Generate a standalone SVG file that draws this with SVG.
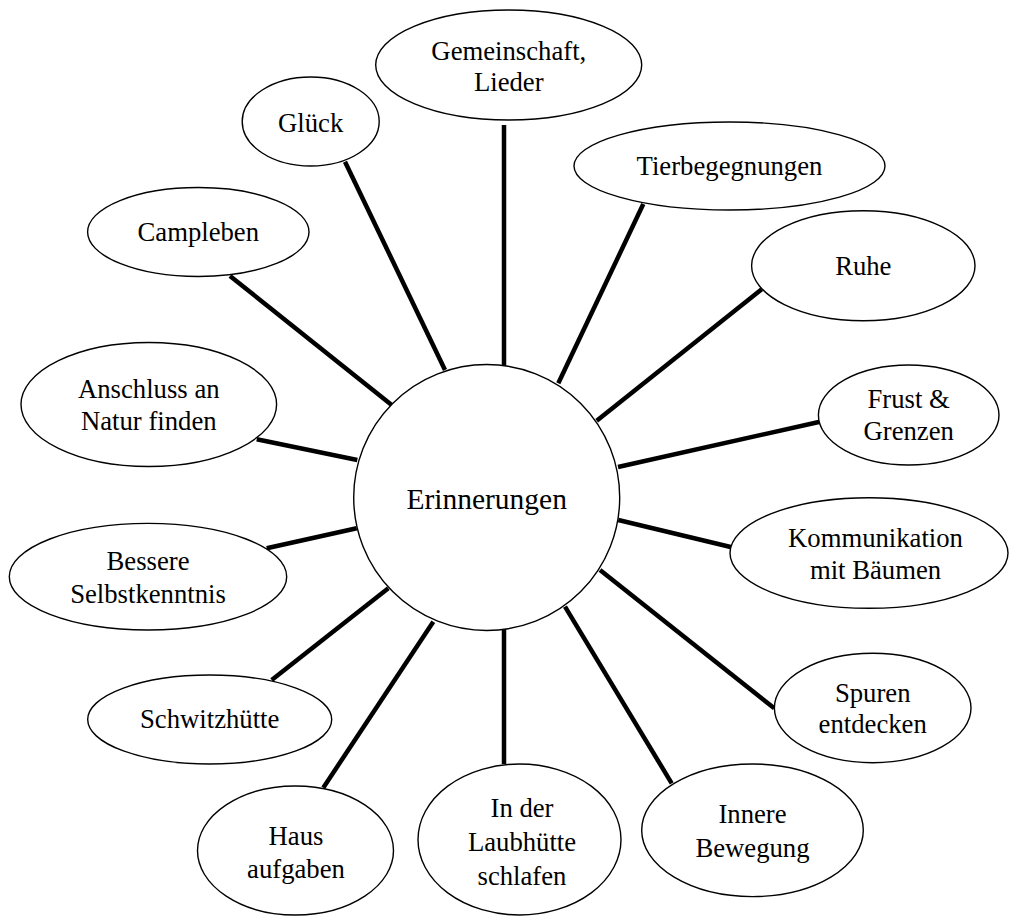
<svg xmlns="http://www.w3.org/2000/svg" width="1010" height="916" viewBox="0 0 1010 916">
<style>
.n{fill:#fff;stroke:#000;stroke-width:1.4}
.t{font-family:"Liberation Serif","Times New Roman",serif;font-size:26.7px;fill:#000;text-anchor:middle}
.c{font-size:29.5px}
.e{stroke:#000;stroke-width:4.5;fill:none}
</style>
<rect width="1010" height="916" fill="#fff"/>
<g id="connectors">
<line class="e" x1="504" y1="125" x2="504" y2="366"/>
<line class="e" x1="345" y1="161.7" x2="445" y2="370"/>
<line class="e" x1="230" y1="276" x2="391.7" y2="405"/>
<line class="e" x1="256.7" y1="439.3" x2="357.3" y2="460"/>
<line class="e" x1="266.7" y1="548.3" x2="356.7" y2="528.3"/>
<line class="e" x1="271.7" y1="680" x2="388.3" y2="588.3"/>
<line class="e" x1="323.3" y1="787.7" x2="433.3" y2="621.7"/>
<line class="e" x1="504" y1="629" x2="504" y2="764"/>
<line class="e" x1="565" y1="606.7" x2="671.7" y2="783.3"/>
<line class="e" x1="600" y1="570" x2="774.3" y2="708.3"/>
<line class="e" x1="618.3" y1="520" x2="731.7" y2="547.3"/>
<line class="e" x1="618" y1="467" x2="820" y2="421.7"/>
<line class="e" x1="596.7" y1="420.7" x2="761.7" y2="289.3"/>
<line class="e" x1="558.3" y1="383.3" x2="643.3" y2="204"/>
</g>
<g id="center">
<circle class="n" cx="486.7" cy="497.5" r="133"/>
<text class="t c" x="486.7" y="509">Erinnerungen</text>
</g>
<g id="gemeinschaft">
<ellipse class="n" cx="508.7" cy="65" rx="133" ry="55"/>
<text class="t" x="508.8" y="60">Gemeinschaft,</text>
<text class="t" x="508.8" y="91">Lieder</text>
</g>
<g id="glueck">
<ellipse class="n" cx="310.7" cy="121.5" rx="68.5" ry="44.5"/>
<text class="t" x="310.7" y="132">Glück</text>
</g>
<g id="campleben">
<ellipse class="n" cx="198.3" cy="232" rx="110.7" ry="44.5"/>
<text class="t" x="198.3" y="241">Campleben</text>
</g>
<g id="anschluss">
<ellipse class="n" cx="148.8" cy="404.5" rx="127.8" ry="62"/>
<text class="t" x="148.8" y="398">Anschluss an</text>
<text class="t" x="148.8" y="430">Natur finden</text>
</g>
<g id="bessere">
<ellipse class="n" cx="148" cy="576.7" rx="138.7" ry="53.3"/>
<text class="t" x="148" y="570">Bessere</text>
<text class="t" x="148" y="603.3">Selbstkenntnis</text>
</g>
<g id="schwitzhuette">
<ellipse class="n" cx="209.7" cy="719.5" rx="122" ry="44.5"/>
<text class="t" x="209.7" y="728.3">Schwitzhütte</text>
</g>
<g id="haus">
<ellipse class="n" cx="295.5" cy="850.5" rx="98" ry="64.5"/>
<text class="t" x="296" y="845">Haus</text>
<text class="t" x="296" y="878.3">aufgaben</text>
</g>
<g id="laubhuette">
<ellipse class="n" cx="519.5" cy="839.5" rx="101.5" ry="75.5"/>
<text class="t" x="522" y="816.7">In der</text>
<text class="t" x="522" y="850.7">Laubhütte</text>
<text class="t" x="522" y="885">schlafen</text>
</g>
<g id="innere">
<ellipse class="n" cx="752.5" cy="830.3" rx="110.8" ry="66.3"/>
<text class="t" x="752.5" y="823">Innere</text>
<text class="t" x="752.5" y="856.7">Bewegung</text>
</g>
<g id="spuren">
<ellipse class="n" cx="872.7" cy="708" rx="98.3" ry="54.7"/>
<text class="t" x="872.7" y="701.7">Spuren</text>
<text class="t" x="872.7" y="733.3">entdecken</text>
</g>
<g id="kommunikation">
<ellipse class="n" cx="869" cy="553" rx="139" ry="55.3"/>
<text class="t" x="875.5" y="546.7">Kommunikation</text>
<text class="t" x="875.5" y="579.3">mit Bäumen</text>
</g>
<g id="frust">
<ellipse class="n" cx="908.7" cy="415" rx="90.3" ry="50"/>
<text class="t" x="908.7" y="408">Frust &amp;</text>
<text class="t" x="908.7" y="440">Grenzen</text>
</g>
<g id="ruhe">
<ellipse class="n" cx="863.3" cy="265.7" rx="111.7" ry="55"/>
<text class="t" x="863.3" y="275">Ruhe</text>
</g>
<g id="tierbegegnungen">
<ellipse class="n" cx="729.5" cy="166" rx="155.5" ry="44"/>
<text class="t" x="729.5" y="175">Tierbegegnungen</text>
</g>
</svg>
